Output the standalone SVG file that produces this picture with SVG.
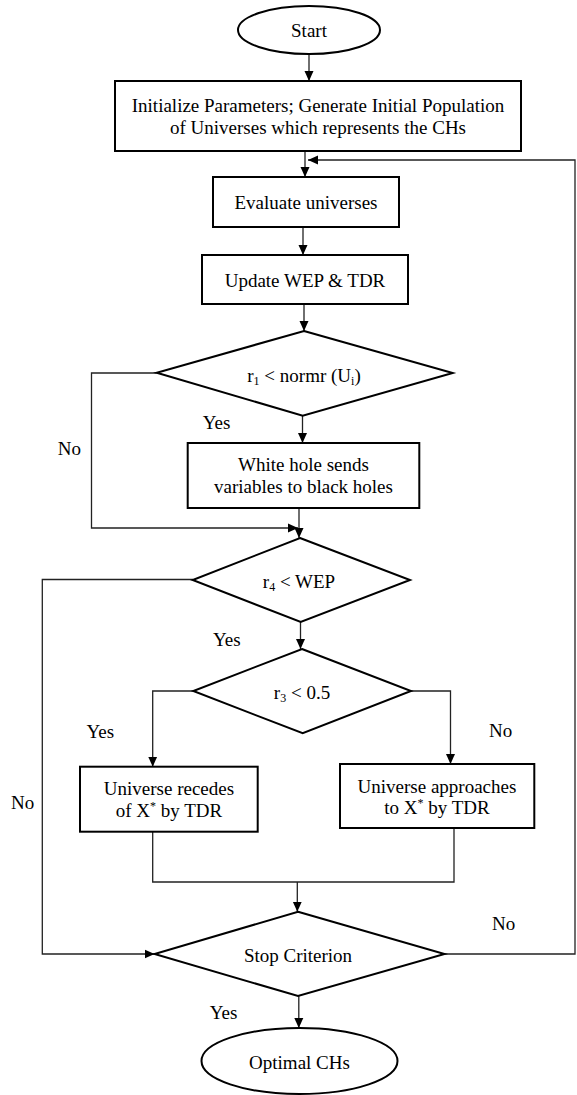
<svg xmlns="http://www.w3.org/2000/svg" width="577" height="1095" viewBox="0 0 577 1095" font-family="Liberation Serif, Times New Roman, serif">
<style>
.n{fill:#fff;stroke:#000;stroke-width:2}
.t{font-size:19px;fill:#000;text-anchor:middle}
.l{font-size:19px;fill:#000}
.c{fill:none;stroke:#222;stroke-width:1.3}
.sub{font-size:12px}
</style>
<defs>
<marker id="ah" markerUnits="userSpaceOnUse" markerWidth="10" markerHeight="10" refX="10" refY="5" orient="auto">
<path d="M0,0.5 L10,5 L0,9.5 z" fill="#000"/>
</marker>
</defs>
<rect width="577" height="1095" fill="#fff"/>
<g id="connectors">
<line class="c" x1="309" y1="54" x2="309" y2="81" marker-end="url(#ah)"/>
<line class="c" x1="305" y1="151" x2="305" y2="177" marker-end="url(#ah)"/>
<polyline class="c" points="444.5,954 575,954 575,160 308,160" marker-end="url(#ah)"/>
<line class="c" x1="303" y1="227" x2="303" y2="255" marker-end="url(#ah)"/>
<line class="c" x1="304" y1="304" x2="304" y2="331" marker-end="url(#ah)"/>
<line class="c" x1="302.5" y1="416" x2="302.5" y2="443" marker-end="url(#ah)"/>
<polyline class="c" points="156.7,373 91.5,373 91.5,528 298,528" marker-end="url(#ah)"/>
<line class="c" x1="299" y1="508" x2="299" y2="538" marker-end="url(#ah)"/>
<line class="c" x1="300.5" y1="622" x2="300.5" y2="649" marker-end="url(#ah)"/>
<polyline class="c" points="193,579.5 42.3,579.5 42.3,954 154.6,954" marker-end="url(#ah)"/>
<polyline class="c" points="193.3,691 152.7,691 152.7,766.7" marker-end="url(#ah)"/>
<polyline class="c" points="411,691 450.5,691 450.5,764" marker-end="url(#ah)"/>
<polyline class="c" points="152.7,832 152.7,882 454,882 454,828"/>
<line class="c" x1="297.3" y1="882" x2="297.3" y2="911.7" marker-end="url(#ah)"/>
<line class="c" x1="298.8" y1="996" x2="298.8" y2="1028" marker-end="url(#ah)"/>
</g>
<g id="start">
<ellipse class="n" cx="309" cy="30" rx="71" ry="24"/>
<text class="t" x="309" y="36.5" font-family="Liberation Serif">Start</text>
</g>
<g id="init">
<rect class="n" x="115" y="81" width="406" height="70"/>
<text class="t" x="318" y="112" font-family="Liberation Serif">Initialize Parameters; Generate Initial Population</text>
<text class="t" x="318" y="134" font-family="Liberation Serif">of Universes which represents the CHs</text>
</g>
<g id="evaluate">
<rect class="n" x="213" y="177" width="186" height="50"/>
<text class="t" x="306" y="208.5" font-family="Liberation Serif">Evaluate universes</text>
</g>
<g id="update">
<rect class="n" x="202" y="255" width="206" height="49"/>
<text class="t" x="305" y="287" font-family="Liberation Serif">Update WEP &amp; TDR</text>
</g>
<g id="d1">
<polygon class="n" points="304,331 452.7,373 302.7,415.7 156.7,372.7"/>
<text class="t" x="304" y="382" font-family="Liberation Serif">r<tspan class="sub" dy="3">1</tspan><tspan dy="-3"> &lt; normr (U</tspan><tspan class="sub" dy="3">i</tspan><tspan dy="-3">)</tspan></text>
</g>
<g id="whitehole">
<rect class="n" x="187.7" y="443" width="231.6" height="65"/>
<text class="t" x="303.5" y="471" font-family="Liberation Serif">White hole sends</text>
<text class="t" x="303.5" y="493" font-family="Liberation Serif">variables to black holes</text>
</g>
<g id="d2">
<polygon class="n" points="300,538 410,580 300.7,622 192.7,580"/>
<text class="t" x="299" y="588" font-family="Liberation Serif">r<tspan class="sub" dy="3">4</tspan><tspan dy="-3"> &lt; WEP</tspan></text>
</g>
<g id="d3">
<polygon class="n" points="302,649 411,691 302.7,733.3 193.3,691"/>
<text class="t" x="302" y="699" font-family="Liberation Serif">r<tspan class="sub" dy="3">3</tspan><tspan dy="-3"> &lt; 0.5</tspan></text>
</g>
<g id="recedes">
<rect class="n" x="80" y="766.7" width="177.7" height="65"/>
<text class="t" x="169" y="795" font-family="Liberation Serif">Universe recedes</text>
<text class="t" x="169" y="817" font-family="Liberation Serif">of X<tspan class="sub" dy="-7">*</tspan><tspan dy="7"> by TDR</tspan></text>
</g>
<g id="approaches">
<rect class="n" x="340" y="764" width="194.3" height="64"/>
<text class="t" x="437" y="793" font-family="Liberation Serif">Universe approaches</text>
<text class="t" x="437" y="814" font-family="Liberation Serif">to X<tspan class="sub" dy="-7">*</tspan><tspan dy="7"> by TDR</tspan></text>
</g>
<g id="stop">
<polygon class="n" points="298,911.7 444.5,954 298,996 154.6,954"/>
<text class="t" x="298" y="961.5" font-family="Liberation Serif">Stop Criterion</text>
</g>
<g id="optimal">
<ellipse class="n" cx="299.5" cy="1061" rx="98" ry="33"/>
<text class="t" x="299.5" y="1069" font-family="Liberation Serif">Optimal CHs</text>
</g>
<g id="labels" font-family="Liberation Serif">
<text class="l" x="202.7" y="429">Yes</text>
<text class="l" x="57.8" y="455">No</text>
<text class="l" x="213" y="646">Yes</text>
<text class="l" x="86.5" y="737.5">Yes</text>
<text class="l" x="489" y="736.5">No</text>
<text class="l" x="11" y="809">No</text>
<text class="l" x="492" y="930">No</text>
<text class="l" x="209.8" y="1019">Yes</text>
</g>
</svg>
